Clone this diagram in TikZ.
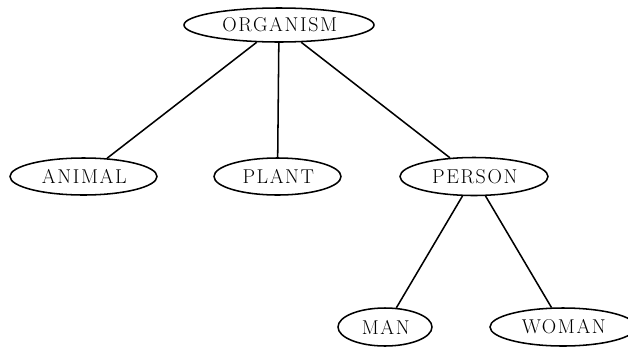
\documentclass[tikz,border=0pt]{standalone}
\usepackage{fontspec}
\setmainfont{Latin Modern Roman}[LetterSpace=8]
\usetikzlibrary{shapes.geometric}
\tikzset{
  term/.style 2 args={ellipse, draw, line width=1.15pt, inner sep=0pt,
    minimum width={#1*0.75pt}, minimum height={#2*0.75pt},
    font=\fontsize{15}{18}\selectfont},
  link/.style={line width=1.15pt}
}
\begin{document}
\begin{tikzpicture}[x=0.75pt, y=-0.75pt]
  \useasboundingbox (0,0) rectangle (628,347);
  \node[term={190}{34}] (organism) at (279,25)  {\kern1.2pt ORGANISM};
  \node[term={147}{37}] (animal)   at (83.5,176.5) {\kern1.2pt ANIMAL};
  \node[term={127}{37}] (plant)    at (277.5,176.5) {\kern1.2pt PLANT};
  \node[term={148}{38}] (person)   at (474,176.5) {\kern1.2pt PERSON};
  \node[term={94}{38}]  (man)      at (385,327) {\kern1.2pt MAN};
  \node[term={146}{38}] (woman)    at (563,327) {\kern1.2pt WOMAN};
  \draw[link] (organism) -- (animal);
  \draw[link] (organism) -- (plant);
  \draw[link] (organism) -- (person);
  \draw[link] (person) -- (man);
  \draw[link] (person) -- (woman);
\end{tikzpicture}
\end{document}
